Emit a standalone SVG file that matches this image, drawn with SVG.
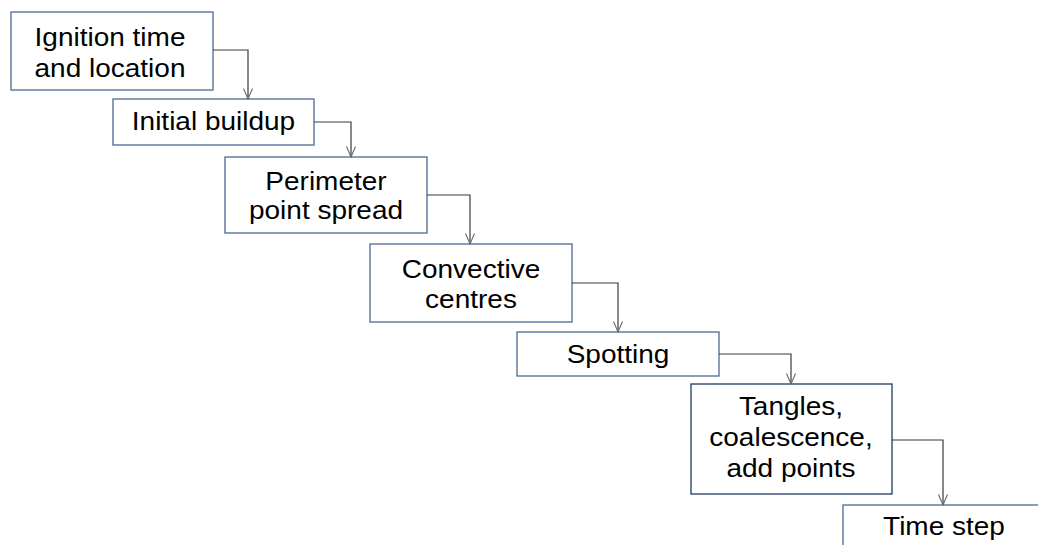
<svg xmlns="http://www.w3.org/2000/svg" width="1038" height="545" viewBox="0 0 1038 545">
  <style>
    .box { fill: #ffffff; stroke: #4a6a94; stroke-width: 1.3; }
    .box.dark { stroke: #203864; }
    .label { font-family: "Liberation Sans", Arial, sans-serif; font-size: 25px; fill: #000000; text-anchor: middle; }
    .link { fill: none; stroke: #3a3a3a; stroke-width: 1.2; marker-end: url(#open-arrow); }
  </style>
  <defs>
    <!-- open V arrowhead, drawn pointing along +x so orient="auto" turns it with the line -->
    <marker id="open-arrow" markerUnits="userSpaceOnUse" markerWidth="12" markerHeight="12" refX="11" refY="5" orient="auto" viewBox="0 0 12 10">
      <path d="M0.5,0.5 L11,5 L0.5,9.5" fill="none" stroke="#6a6a6a" stroke-width="1.1"/>
    </marker>
  </defs>
  <rect width="1038" height="545" fill="#ffffff"/>

  <!-- step boxes; labels are slightly widened with a horizontal scale -->
  <g id="ignition">
    <rect class="box" x="11" y="12" width="202" height="78"/>
    <text class="label" transform="translate(110 46) scale(1.12 1)">Ignition time</text>
    <text class="label" transform="translate(110 77) scale(1.12 1)">and location</text>
  </g>
  <g id="initial-buildup">
    <rect class="box" x="113" y="99" width="201" height="46"/>
    <text class="label" transform="translate(213.5 130) scale(1.12 1)">Initial buildup</text>
  </g>
  <g id="perimeter-spread">
    <rect class="box" x="225" y="157" width="202" height="76"/>
    <text class="label" transform="translate(326 190) scale(1.12 1)">Perimeter</text>
    <text class="label" transform="translate(326 219) scale(1.12 1)">point spread</text>
  </g>
  <g id="convective-centres">
    <rect class="box" x="370" y="244" width="202" height="78"/>
    <text class="label" transform="translate(471 278) scale(1.12 1)">Convective</text>
    <text class="label" transform="translate(471 308) scale(1.12 1)">centres</text>
  </g>
  <g id="spotting">
    <rect class="box" x="517" y="332" width="202" height="44"/>
    <text class="label" transform="translate(618 363) scale(1.12 1)">Spotting</text>
  </g>
  <g id="tangles">
    <rect class="box dark" x="691" y="384" width="201" height="110"/>
    <text class="label" transform="translate(791 415) scale(1.12 1)">Tangles,</text>
    <text class="label" transform="translate(791 446) scale(1.12 1)">coalescence,</text>
    <text class="label" transform="translate(791 477) scale(1.12 1)">add points</text>
  </g>
  <g id="time-step">
    <rect class="box" x="843" y="505" width="202" height="60"/>
    <text class="label" transform="translate(944 535) scale(1.12 1)">Time step</text>
  </g>

  <!-- elbow connectors between steps -->
  <g id="connectors">
    <path class="link" d="M213,50 H248 V99"/>
    <path class="link" d="M314,122 H351 V157"/>
    <path class="link" d="M427,195 H470 V244"/>
    <path class="link" d="M572,283 H618 V332"/>
    <path class="link" d="M719,354 H791 V384"/>
    <path class="link" d="M892,440 H943 V505"/>
  </g>
</svg>
